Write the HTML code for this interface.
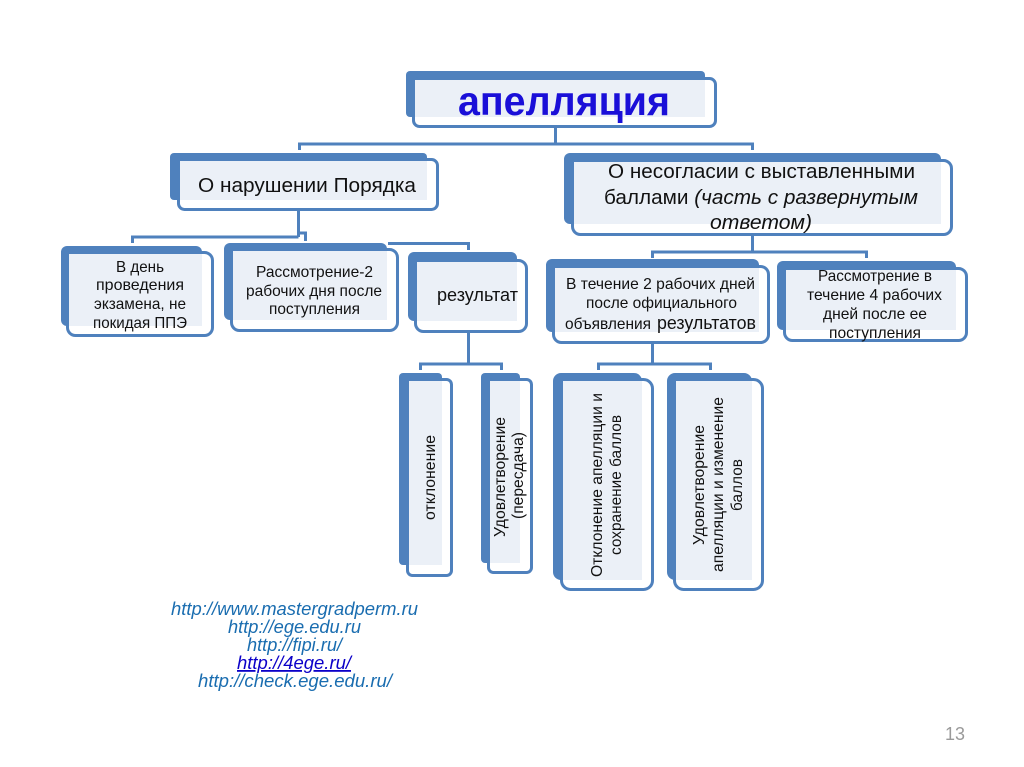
<!DOCTYPE html>
<html lang="ru">
<head>
<meta charset="utf-8">
<title>апелляция</title>
<style>
html,body{margin:0;padding:0;background:#fff;width:1024px;height:767px;overflow:hidden}
svg{display:block}
text{font-family:"Liberation Sans","DejaVu Sans",sans-serif;fill:#111}
.b{fill:#4f81bd}
.f{fill:#fff;stroke:#4f81bd;stroke-width:3}
.l{fill:#ebf0f7}
.c{fill:none;stroke:#4f81bd;stroke-width:3}
.t15{font-size:16px}
.t19{font-size:20px}
.u{font-size:18px;font-style:italic;fill:#1a6db0}
</style>
</head>
<body>
<svg width="1024" height="767" viewBox="0 0 1024 767" xmlns="http://www.w3.org/2000/svg">
<!-- connectors -->
<path class="c" d="M555.500 128V144M299.500 150V144H752.500V150"/>
<path class="c" d="M298.500 210V237M132.500 243V237H298.500M298.500 233H305.500V241"/>
<path class="c" d="M388 243.500H468.500V250"/>
<path class="c" d="M468.500 332V364M420.500 370V364H501.500V370"/>
<path class="c" d="M752.500 235V252M652.500 258V252H866.500V258"/>
<path class="c" d="M652.500 343V364M598.500 370V364H710.500V370"/>

<!-- апелляция -->
<rect class="b" x="406" y="71" width="299" height="46" rx="4"/>
<rect class="f" x="413.500" y="78.500" width="302" height="48" rx="6"/>
<rect class="l" x="415" y="80" width="290" height="37"/>
<!-- О нарушении -->
<rect class="b" x="170" y="153" width="257" height="47" rx="4"/>
<rect class="f" x="178.500" y="159.500" width="259" height="50" rx="6"/>
<rect class="l" x="180" y="161" width="247" height="39"/>
<!-- О несогласии -->
<rect class="b" x="564" y="153" width="377" height="71" rx="6"/>
<rect class="f" x="572.500" y="160.500" width="379" height="74" rx="8"/>
<rect class="l" x="574" y="162" width="367" height="62"/>
<!-- В день -->
<rect class="b" x="61" y="246" width="141" height="80" rx="6"/>
<rect class="f" x="67.500" y="252.500" width="145" height="83" rx="8"/>
<rect class="l" x="69" y="254" width="133" height="72"/>
<!-- Рассмотрение-2 -->
<rect class="b" x="224" y="243" width="163" height="77" rx="6"/>
<rect class="f" x="231.500" y="249.500" width="166" height="81" rx="8"/>
<rect class="l" x="233" y="251" width="154" height="69"/>
<!-- результат -->
<rect class="b" x="408" y="252" width="109" height="69" rx="6"/>
<rect class="f" x="415.500" y="260.500" width="111" height="71" rx="8"/>
<rect class="l" x="417" y="262" width="100" height="59"/>
<!-- В течение -->
<rect class="b" x="546" y="259" width="213" height="73" rx="6"/>
<rect class="f" x="553.500" y="266.500" width="215" height="76" rx="8"/>
<rect class="l" x="555" y="268" width="204" height="64"/>
<!-- Рассмотрение в -->
<rect class="b" x="777" y="261" width="179" height="69" rx="6"/>
<rect class="f" x="784.500" y="268.500" width="182" height="72" rx="8"/>
<rect class="l" x="786" y="270" width="170" height="60"/>
<!-- отклонение -->
<rect class="b" x="399" y="373" width="43" height="192" rx="4"/>
<rect class="f" x="407.500" y="379.500" width="44" height="196" rx="5"/>
<rect class="l" x="409" y="381" width="33" height="184"/>
<!-- Удовлетворение -->
<rect class="b" x="481" y="373" width="39" height="190" rx="4"/>
<rect class="f" x="488.500" y="379.500" width="43" height="193" rx="5"/>
<rect class="l" x="490" y="381" width="30" height="182"/>
<!-- Отклонение апелляции -->
<rect class="b" x="553" y="373" width="89" height="207" rx="8"/>
<rect class="f" x="561.500" y="379.500" width="91" height="210" rx="9"/>
<rect class="l" x="563" y="381" width="79" height="199"/>
<!-- Удовлетворение апелляции -->
<rect class="b" x="667" y="373" width="85" height="207" rx="8"/>
<rect class="f" x="674.500" y="379.500" width="88" height="210" rx="9"/>
<rect class="l" x="676" y="381" width="76" height="199"/>

<!-- text -->
<text x="458" y="115" font-size="41" font-weight="bold" style="fill:#1a0fd8" textLength="212" lengthAdjust="spacingAndGlyphs">апелляция</text>
<text class="t19" x="198" y="192" textLength="218" lengthAdjust="spacingAndGlyphs">О нарушении Порядка</text>

<text class="t19" x="608" y="178" textLength="307" lengthAdjust="spacingAndGlyphs">О несогласии с выставленными</text>
<text class="t19" x="604" y="204" textLength="314" lengthAdjust="spacingAndGlyphs">баллами <tspan font-style="italic">(часть с развернутым</tspan></text>
<text class="t19" x="710" y="229" font-style="italic" textLength="102" lengthAdjust="spacingAndGlyphs">ответом)</text>

<text class="t15" x="116" y="272" textLength="48" lengthAdjust="spacingAndGlyphs">В день</text>
<text class="t15" x="96" y="290" textLength="88" lengthAdjust="spacingAndGlyphs">проведения</text>
<text class="t15" x="94" y="309" textLength="92" lengthAdjust="spacingAndGlyphs">экзамена, не</text>
<text class="t15" x="93" y="328" textLength="94" lengthAdjust="spacingAndGlyphs">покидая ППЭ</text>

<text class="t15" x="256" y="277" textLength="117" lengthAdjust="spacingAndGlyphs">Рассмотрение-2</text>
<text class="t15" x="246" y="296" textLength="136" lengthAdjust="spacingAndGlyphs">рабочих дня после</text>
<text class="t15" x="269" y="314" textLength="91" lengthAdjust="spacingAndGlyphs">поступления</text>

<text x="437" y="301" font-size="18" textLength="81" lengthAdjust="spacingAndGlyphs">результат</text>

<text class="t15" x="566" y="289" textLength="189" lengthAdjust="spacingAndGlyphs">В течение 2 рабочих дней</text>
<text class="t15" x="586" y="308" textLength="151" lengthAdjust="spacingAndGlyphs">после официального</text>
<text class="t15" x="565" y="329" textLength="86" lengthAdjust="spacingAndGlyphs">объявления</text>
<text x="657" y="329" font-size="18" textLength="99" lengthAdjust="spacingAndGlyphs">результатов</text>

<text class="t15" x="818" y="281" textLength="114" lengthAdjust="spacingAndGlyphs">Рассмотрение в</text>
<text class="t15" x="807" y="300" textLength="135" lengthAdjust="spacingAndGlyphs">течение 4 рабочих</text>
<text class="t15" x="823" y="319" textLength="104" lengthAdjust="spacingAndGlyphs">дней после ее</text>
<text class="t15" x="829" y="338" textLength="92" lengthAdjust="spacingAndGlyphs">поступления</text>

<text class="t15" transform="translate(435 520) rotate(-90)" textLength="85" lengthAdjust="spacingAndGlyphs">отклонение</text>
<text class="t15" transform="translate(505 537) rotate(-90)" textLength="120" lengthAdjust="spacingAndGlyphs">Удовлетворение</text>
<text class="t15" transform="translate(523 519) rotate(-90)" textLength="87" lengthAdjust="spacingAndGlyphs">(пересдача)</text>
<text class="t15" transform="translate(602 577) rotate(-90)" textLength="184" lengthAdjust="spacingAndGlyphs">Отклонение апелляции и</text>
<text class="t15" transform="translate(621 555) rotate(-90)" textLength="140" lengthAdjust="spacingAndGlyphs">сохранение баллов</text>
<text class="t15" transform="translate(704 545) rotate(-90)" textLength="120" lengthAdjust="spacingAndGlyphs">Удовлетворение</text>
<text class="t15" transform="translate(723 572) rotate(-90)" textLength="175" lengthAdjust="spacingAndGlyphs">апелляции и изменение</text>
<text class="t15" transform="translate(742 511) rotate(-90)" textLength="52" lengthAdjust="spacingAndGlyphs">баллов</text>

<text class="u" x="171" y="615" textLength="247" lengthAdjust="spacingAndGlyphs">http://www.mastergradperm.ru</text>
<text class="u" x="228" y="633" textLength="133" lengthAdjust="spacingAndGlyphs">http://ege.edu.ru</text>
<text class="u" x="247" y="651" textLength="95" lengthAdjust="spacingAndGlyphs">http://fipi.ru/</text>
<text class="u" x="237" y="669" textLength="114" lengthAdjust="spacingAndGlyphs" text-decoration="underline" style="fill:#0b00c8">http://4ege.ru/</text>
<text class="u" x="198" y="687" textLength="194" lengthAdjust="spacingAndGlyphs">http://check.ege.edu.ru/</text>

<text x="945" y="740" font-size="18" style="fill:#9a9a9a" textLength="20" lengthAdjust="spacingAndGlyphs">13</text>
</svg>
</body>
</html>
